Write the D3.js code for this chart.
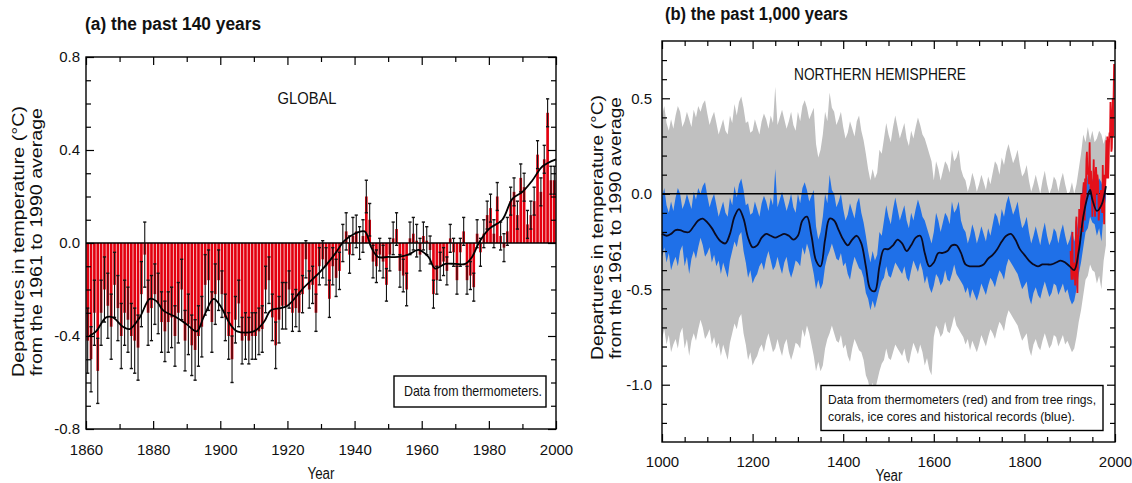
<!DOCTYPE html>
<html><head><meta charset="utf-8">
<script src="https://cdn.jsdelivr.net/npm/d3@7"></script>
<style>body{margin:0;background:#fff} svg{display:block}</style>
</head><body>
<svg id="c" width="1132" height="483"></svg>
<script>
// ---------- DATA: panel (a) global, 1861-2000 ----------
const globalStart = 1861;
const globalAnom = [
 -0.42,-0.50,-0.30,-0.55,-0.30,-0.20,-0.27,-0.36,-0.18,-0.28,
 -0.40,-0.30,-0.33,-0.40,-0.42,-0.45,-0.22,-0.05,-0.30,-0.28,
 -0.22,-0.26,-0.34,-0.38,-0.34,-0.32,-0.40,-0.30,-0.20,-0.42,
 -0.35,-0.44,-0.46,-0.40,-0.36,-0.18,-0.16,-0.34,-0.22,-0.16,
 -0.22,-0.32,-0.40,-0.50,-0.33,-0.26,-0.42,-0.40,-0.42,-0.40,
 -0.40,-0.38,-0.37,-0.20,-0.16,-0.32,-0.44,-0.33,-0.27,-0.27,
 -0.20,-0.30,-0.28,-0.30,-0.22,-0.07,-0.20,-0.18,-0.30,-0.10,
 -0.07,-0.10,-0.24,-0.10,-0.15,-0.12, 0.00, 0.05,-0.05, 0.03,
  0.05, 0.00, 0.03, 0.20, 0.10,-0.08,-0.10,-0.05,-0.08,-0.18,
 -0.05, 0.02, 0.06,-0.12,-0.14,-0.20, 0.02, 0.04, 0.01,-0.05,
  0.03, 0.01,-0.03,-0.22,-0.16,-0.10,-0.08,-0.12, 0.02,-0.04,
 -0.16,-0.04, 0.05,-0.16,-0.14,-0.19, 0.04,-0.04, 0.04, 0.12,
  0.15, 0.04, 0.20, 0.03,-0.02, 0.05, 0.18, 0.22, 0.12, 0.28,
  0.24, 0.08, 0.12, 0.18, 0.38, 0.22, 0.36, 0.56, 0.27, 0.27
];
// error-bar half widths by period [from, to, halfWidth]
const globalErr = [[1861,1880,0.14],[1881,1900,0.13],[1901,1920,0.10],[1921,1940,0.08],[1941,1960,0.07],[1961,2000,0.06]];
const globalSmoothYears = [1861,1863,1866,1868,1871,1873,1876,1879,1881,1883,1887,1890,1893,1895,1898,1900,1903,1905,1910,1913,1915,1918,1920,1925,1930,1934,1937,1940,1943,1945,1947,1950,1953,1956,1959,1962,1964,1967,1970,1973,1975,1977,1980,1984,1987,1990,1993,1996,2000];
const globalSmooth = [-0.40,-0.38,-0.32,-0.32,-0.36,-0.37,-0.32,-0.24,-0.25,-0.29,-0.32,-0.35,-0.38,-0.32,-0.24,-0.27,-0.35,-0.38,-0.38,-0.34,-0.29,-0.28,-0.27,-0.19,-0.12,-0.05,0.01,0.04,0.05,-0.02,-0.06,-0.06,-0.06,-0.05,-0.03,-0.06,-0.11,-0.09,-0.09,-0.09,-0.06,0.00,0.06,0.10,0.19,0.22,0.27,0.33,0.36];
const globalXTicks = [1860,1880,1900,1920,1940,1960,1980,2000];
const globalXMinor = [1870,1890,1910,1930,1950,1970,1990];
const globalYTicks = [-0.8,-0.4,0.0,0.4,0.8];
const globalYMinor = [-0.7,-0.6,-0.5,-0.3,-0.2,-0.1,0.1,0.2,0.3,0.5,0.6,0.7];

// ---------- DATA: panel (b) northern hemisphere, 1000-1980 every 5 years ----------
const nhStart = 1000, nhStep = 5;
// upper / lower envelope of the annual proxy reconstruction (blue)
const nhHi = [
 -0.02, 0.03,-0.06,-0.10,-0.04,-0.09,-0.02, 0.03, 0.00,-0.08,
 -0.05, 0.00,-0.04,-0.08, 0.01,-0.03, 0.03, 0.00, 0.04, 0.06,
 -0.01,-0.07,-0.03, 0.00,-0.06,-0.12,-0.08,-0.04,-0.10,-0.12,
 -0.02,-0.06, 0.04,-0.02, 0.05, 0.08, 0.02,-0.06,-0.05,-0.11,
 -0.10,-0.04,-0.08,-0.12,-0.05,-0.01,-0.04,-0.09,-0.02,-0.06,
  0.13,-0.07,-0.03, 0.01,-0.04,-0.09,-0.05, 0.00,-0.07,-0.10,
  0.00,-0.05, 0.03, 0.06, 0.02,-0.04,-0.01, 0.02,-0.17,-0.24,
 -0.20,-0.12, 0.00,-0.05, 0.10, 0.02, 0.00,-0.07,-0.04, 0.00,
 -0.08,-0.14,-0.11,-0.05,-0.09,-0.13,-0.05,-0.02,-0.10,-0.15,
 -0.22,-0.30,-0.36,-0.30,-0.35,-0.32,-0.20,-0.22,-0.14,-0.06,
 -0.12,-0.16,-0.08,-0.02,-0.08,-0.14,-0.10,-0.06,-0.14,-0.18,
 -0.10,-0.14,-0.08,-0.03,-0.07,-0.12,-0.14,-0.18,-0.22,-0.26,
 -0.20,-0.10,-0.14,-0.20,-0.15,-0.10,-0.12,-0.16,-0.04,-0.10,
 -0.08,-0.04,-0.14,-0.18,-0.20,-0.26,-0.22,-0.16,-0.20,-0.26,
 -0.22,-0.17,-0.21,-0.25,-0.18,-0.22,-0.16,-0.10,-0.12,-0.17,
 -0.08,-0.12,-0.05,-0.01,-0.06,-0.11,-0.08,-0.04,-0.12,-0.18,
 -0.16,-0.12,-0.20,-0.26,-0.22,-0.17,-0.22,-0.27,-0.20,-0.15,
 -0.22,-0.27,-0.24,-0.18,-0.20,-0.26,-0.20,-0.16,-0.22,-0.27,
 -0.24,-0.19,-0.25,-0.20,-0.12,-0.04, 0.06, 0.02, 0.10, 0.03,
  0.08, 0.02, 0.04, 0.08, 0.06, 0.01, 0.06];
const nhLo = [
 -0.33,-0.28,-0.36,-0.31,-0.40,-0.36,-0.33,-0.38,-0.30,-0.27,
 -0.38,-0.33,-0.42,-0.34,-0.30,-0.34,-0.28,-0.23,-0.27,-0.33,
 -0.31,-0.28,-0.36,-0.32,-0.38,-0.35,-0.42,-0.36,-0.40,-0.44,
 -0.35,-0.30,-0.25,-0.28,-0.22,-0.20,-0.30,-0.36,-0.44,-0.40,
 -0.47,-0.44,-0.42,-0.38,-0.36,-0.40,-0.34,-0.30,-0.35,-0.40,
 -0.38,-0.33,-0.38,-0.42,-0.36,-0.33,-0.40,-0.44,-0.40,-0.35,
 -0.36,-0.38,-0.28,-0.32,-0.26,-0.30,-0.36,-0.42,-0.50,-0.45,
 -0.50,-0.47,-0.38,-0.33,-0.30,-0.26,-0.30,-0.34,-0.35,-0.31,
 -0.38,-0.36,-0.42,-0.45,-0.38,-0.33,-0.36,-0.39,-0.40,-0.44,
 -0.52,-0.55,-0.61,-0.56,-0.60,-0.55,-0.50,-0.46,-0.44,-0.38,
 -0.43,-0.44,-0.40,-0.36,-0.38,-0.40,-0.42,-0.38,-0.44,-0.46,
 -0.40,-0.35,-0.38,-0.41,-0.36,-0.40,-0.47,-0.43,-0.49,-0.52,
 -0.48,-0.42,-0.44,-0.48,-0.46,-0.40,-0.45,-0.46,-0.42,-0.37,
 -0.42,-0.44,-0.46,-0.48,-0.52,-0.49,-0.55,-0.50,-0.53,-0.56,
 -0.52,-0.47,-0.50,-0.53,-0.48,-0.44,-0.46,-0.49,-0.44,-0.40,
 -0.42,-0.45,-0.38,-0.34,-0.36,-0.38,-0.40,-0.42,-0.46,-0.50,
 -0.48,-0.46,-0.54,-0.58,-0.52,-0.49,-0.53,-0.55,-0.50,-0.46,
 -0.50,-0.54,-0.52,-0.47,-0.48,-0.53,-0.50,-0.47,-0.52,-0.50,
 -0.55,-0.58,-0.56,-0.50,-0.42,-0.36,-0.28,-0.20,-0.18,-0.12,
 -0.15,-0.16,-0.22,-0.18,-0.25,-0.10,-0.02];
// two-sigma uncertainty added outside the blue envelope (grey) [from, to, width]
const nhUnc = [[1000,1599,0.43],[1600,1899,0.27],[1900,1980,0.25]];
const nhSmoothYears = [1000,1010,1020,1030,1040,1050,1060,1070,1080,1090,1100,1110,1120,1130,1140,1150,1160,1170,1180,1190,1200,1210,1220,1230,1240,1250,1260,1270,1280,1290,1300,1310,1320,1330,1340,1350,1360,1370,1380,1390,1400,1410,1420,1430,1440,1450,1460,1470,1480,1490,1500,1510,1520,1530,1540,1550,1560,1570,1580,1590,1600,1610,1620,1630,1640,1650,1660,1670,1680,1690,1700,1710,1720,1730,1740,1750,1760,1770,1780,1790,1800,1810,1820,1830,1840,1850,1860,1870,1880,1890,1900,1910,1920,1930,1940,1945,1950,1960,1970,1980];
const nhSmooth = [
 -0.21,-0.22,-0.21,-0.19,-0.19,-0.20,-0.20,-0.17,-0.14,-0.13,
 -0.15,-0.18,-0.22,-0.25,-0.26,-0.21,-0.12,-0.08,-0.13,-0.23,
 -0.28,-0.27,-0.23,-0.21,-0.22,-0.23,-0.22,-0.21,-0.22,-0.24,
 -0.22,-0.14,-0.12,-0.22,-0.35,-0.38,-0.24,-0.13,-0.14,-0.19,
 -0.24,-0.27,-0.24,-0.22,-0.26,-0.38,-0.50,-0.51,-0.38,-0.29,
 -0.29,-0.27,-0.24,-0.26,-0.30,-0.27,-0.23,-0.22,-0.31,-0.38,
 -0.36,-0.31,-0.31,-0.30,-0.27,-0.27,-0.31,-0.37,-0.38,-0.38,
 -0.38,-0.37,-0.34,-0.32,-0.29,-0.25,-0.22,-0.21,-0.24,-0.29,
 -0.32,-0.35,-0.37,-0.38,-0.37,-0.37,-0.37,-0.36,-0.35,-0.36,
 -0.38,-0.40,-0.30,-0.12,-0.01, 0.02,-0.03,-0.09,-0.06, 0.04];
// instrumental NH annual (red), 1902-1998
const instrStart = 1902;
const instrNH = [
 -0.30,-0.38,-0.45,-0.30,-0.20,-0.45,-0.40,-0.42,-0.36,
 -0.38,-0.48,-0.36,-0.15,-0.12,-0.36,-0.52,-0.34,-0.22,-0.22,
 -0.08,-0.18,-0.12,-0.18,-0.04, 0.00,-0.05,-0.02,-0.20, 0.02,
  0.06, 0.02,-0.14, 0.08,-0.02, 0.06, 0.18, 0.22, 0.12, 0.10,
  0.12, 0.05, 0.15, 0.27, 0.10, 0.02, 0.12, 0.04, 0.00,-0.12,
  0.02, 0.08, 0.18, 0.00,-0.06,-0.12, 0.10, 0.14, 0.10, 0.00,
  0.10, 0.08, 0.06,-0.14,-0.10,-0.02, 0.00,-0.08, 0.02, 0.00,
 -0.08,-0.10, 0.15,-0.06,-0.02,-0.16, 0.10, 0.02, 0.08, 0.16,
  0.28, 0.08, 0.30, 0.12, 0.08, 0.18, 0.28, 0.32, 0.30, 0.48,
  0.40, 0.22, 0.24, 0.36, 0.50, 0.30, 0.52, 0.68];
const nhXTicks = [1000,1200,1400,1600,1800,2000];
const nhXMinor = [1050,1100,1150,1250,1300,1350,1450,1500,1550,1650,1700,1750,1850,1900,1950];
const nhYTicks = [-1.0,-0.5,0.0,0.5];
const nhYMinor = [-1.2,-1.1,-0.9,-0.8,-0.7,-0.6,-0.4,-0.3,-0.2,-0.1,0.1,0.2,0.3,0.4,0.6,0.7];

// ---------- DRAWING ----------
const FONT = '"Liberation Sans Narrow","Arial Narrow","Liberation Sans",Arial,sans-serif';
const svg = d3.select('#c');
const fmt1 = v => v.toFixed(1);

function addText(g, x, y, str, opt) {
  const t = g.append('text').attr('x', x).attr('y', y).text(str)
    .attr('font-family', FONT).attr('font-size', opt.size || 15)
    .attr('fill', '#111');
  if (opt.bold) t.attr('font-weight', 'bold');
  if (opt.anchor) t.attr('text-anchor', opt.anchor);
  if (opt.transform) t.attr('transform', opt.transform);
  if (opt.fit) {
    // shrink the font so the natural width does not exceed the target width
    const nat = t.node().getComputedTextLength();
    if (nat > opt.len) t.attr('font-size', (opt.size || 15) * opt.len / nat);
  }
  if (opt.len) t.attr('textLength', opt.len).attr('lengthAdjust', 'spacingAndGlyphs');
  return t;
}

function axes(g, x, y, o) {
  const [x0, x1] = x.range(), [y0, y1] = y.range();
  const style = sel => {
    sel.select('.domain').remove();
    sel.selectAll('line').attr('stroke', '#000').attr('stroke-width', 1.2);
    sel.selectAll('text').attr('font-family', FONT).attr('font-size', 15).attr('fill', '#111');
  };
  g.append('g').attr('transform', `translate(0,${y0})`)
    .call(d3.axisBottom(x).tickValues(o.xMajor).tickSize(-8).tickPadding(o.xPad).tickFormat(d3.format('d'))).call(style);
  g.append('g').attr('transform', `translate(0,${y0})`)
    .call(d3.axisBottom(x).tickValues(o.xMinor).tickSize(-5).tickFormat('')).call(style);
  g.append('g').attr('transform', `translate(0,${y1})`)
    .call(d3.axisTop(x).tickValues(o.xMajor).tickSize(-8).tickFormat('')).call(style);
  g.append('g').attr('transform', `translate(0,${y1})`)
    .call(d3.axisTop(x).tickValues(o.xMinor).tickSize(-5).tickFormat('')).call(style);
  g.append('g').attr('transform', `translate(${x0},0)`)
    .call(d3.axisLeft(y).tickValues(o.yMajor).tickSize(-8).tickPadding(o.yPad).tickFormat(fmt1)).call(style);
  g.append('g').attr('transform', `translate(${x0},0)`)
    .call(d3.axisLeft(y).tickValues(o.yMinor).tickSize(-5).tickFormat('')).call(style);
  g.append('g').attr('transform', `translate(${x1},0)`)
    .call(d3.axisRight(y).tickValues(o.yMajor).tickSize(-8).tickFormat('')).call(style);
  g.append('g').attr('transform', `translate(${x1},0)`)
    .call(d3.axisRight(y).tickValues(o.yMinor).tickSize(-5).tickFormat('')).call(style);
  g.append('rect').attr('x', x0).attr('y', y1).attr('width', x1 - x0).attr('height', y0 - y1)
    .attr('fill', 'none').attr('stroke', '#000').attr('stroke-width', 1.4);
}

// ===== Panel (a) =====
{
  const g = svg.append('g');
  const x = d3.scaleLinear().domain([1860, 2000]).range([86, 556]);
  const y = d3.scaleLinear().domain([-0.8, 0.8]).range([429, 57]);
  const data = globalAnom.map((v, i) => ({ year: globalStart + i, v }));
  const errOf = yr => globalErr.find(s => yr >= s[0] && yr <= s[1])[2];

  g.append('g').selectAll('rect').data(data).join('rect')
    .attr('x', d => x(d.year - 1) + 0.35)
    .attr('width', d => x(d.year) - x(d.year - 1) - 0.7)
    .attr('y', d => y(Math.max(d.v, 0)))
    .attr('height', d => Math.abs(y(d.v) - y(0)))
    .attr('fill', '#e3000f');

  g.append('line').attr('x1', x(1860)).attr('x2', x(2000)).attr('y1', y(0)).attr('y2', y(0))
    .attr('stroke', '#000').attr('stroke-width', 1.3);

  const eb = g.append('g').attr('stroke', '#111').attr('stroke-width', 1.1);
  data.forEach(d => {
    const cx = x(d.year - 0.5), e = errOf(d.year);
    eb.append('line').attr('x1', cx).attr('x2', cx).attr('y1', y(d.v - e)).attr('y2', y(d.v + e));
    [d.v - e, d.v + e].forEach(w => eb.append('line').attr('x1', cx - 1.6).attr('x2', cx + 1.6).attr('y1', y(w)).attr('y2', y(w)).attr('stroke-width', 1.4));
  });

  g.append('path').datum(globalSmoothYears.map((yr, i) => [yr, globalSmooth[i]]))
    .attr('d', d3.line().x(d => x(d[0])).y(d => y(d[1])).curve(d3.curveCatmullRom))
    .attr('fill', 'none').attr('stroke', '#000').attr('stroke-width', 1.8);

  axes(g, x, y, { xMajor: globalXTicks, xMinor: globalXMinor, yMajor: globalYTicks, yMinor: globalYMinor, xPad: 15, yPad: 6 });

  addText(g, 85, 30, '(a) the past 140 years', { size: 18, bold: true, len: 176 });
  addText(g, 307, 104, 'GLOBAL', { size: 17, anchor: 'middle', len: 59 });
  addText(g, 321, 479, 'Year', { size: 16, anchor: 'middle', len: 27 });
  addText(g, -135, 0, 'Departures in temperature (\u00B0C)', { size: 16, len: 271, transform: 'translate(18.5,242) rotate(-90)' }).attr('dy', '0.35em');
  addText(g, -134, 0, 'from the 1961 to 1990 average', { size: 16, len: 268, transform: 'translate(36,242) rotate(-90)' }).attr('dy', '0.35em');

  g.append('rect').attr('x', 394).attr('y', 376).attr('width', 152).attr('height', 31)
    .attr('fill', '#fff').attr('stroke', '#000').attr('stroke-width', 1.4);
  addText(g, 404, 396, 'Data from thermometers.', { size: 15, len: 138 });
}

// ===== Panel (b) =====
{
  const g = svg.append('g');
  const x = d3.scaleLinear().domain([1000, 2000]).range([662, 1115]);
  const y = d3.scaleLinear().domain([-1.3, 0.8]).range([442, 41]);
  const uncOf = yr => nhUnc.find(s => yr >= s[0] && yr <= s[1])[2];
  const pts = nhHi.map((hi, i) => {
    const yr = nhStart + i * nhStep;
    return { yr, hi, lo: nhLo[i], u: uncOf(yr) };
  });

  g.append('path').datum(pts)
    .attr('d', d3.area().x(d => x(d.yr)).y0(d => y(d.lo - d.u)).y1(d => y(d.hi + d.u)))
    .attr('fill', '#c0c0c0');

  g.append('path').datum(pts)
    .attr('d', d3.area().x(d => x(d.yr)).y0(d => y(d.lo)).y1(d => y(d.hi)))
    .attr('fill', '#1f70e8');

  g.append('line').attr('x1', x(1000)).attr('x2', x(2000)).attr('y1', y(0)).attr('y2', y(0))
    .attr('stroke', '#000').attr('stroke-width', 1.3);

  g.append('path').datum(instrNH.map((v, i) => [instrStart + i, v]))
    .attr('d', d3.line().x(d => x(d[0])).y(d => y(d[1])))
    .attr('fill', 'none').attr('stroke', '#e3101a').attr('stroke-width', 1.8);

  g.append('path').datum(nhSmoothYears.map((yr, i) => [yr, nhSmooth[i]]))
    .attr('d', d3.line().x(d => x(d[0])).y(d => y(d[1])).curve(d3.curveCatmullRom))
    .attr('fill', 'none').attr('stroke', '#0a0a20').attr('stroke-width', 1.8);

  axes(g, x, y, { xMajor: nhXTicks, xMinor: nhXMinor, yMajor: nhYTicks, yMinor: nhYMinor, xPad: 14, yPad: 10 });

  addText(g, 665, 20, '(b) the past 1,000 years', { size: 18, bold: true, len: 183 });
  addText(g, 880, 80, 'NORTHERN HEMISPHERE', { size: 17, anchor: 'middle', len: 172 });
  addText(g, 889, 483, 'Year', { size: 16, anchor: 'middle', len: 27 }).attr('dy', '-0.1em');
  addText(g, -132, 0, 'Departures in temperature (\u00B0C)', { size: 16, len: 265, transform: 'translate(597.5,228) rotate(-90)' }).attr('dy', '0.35em');
  addText(g, -131, 0, 'from the 1961 to 1990 average', { size: 16, len: 262, transform: 'translate(615.5,228) rotate(-90)' }).attr('dy', '0.35em');

  g.append('rect').attr('x', 821).attr('y', 385.5).attr('width', 282).attr('height', 45)
    .attr('fill', '#fff').attr('stroke', '#000').attr('stroke-width', 1.4);
  addText(g, 828, 404, 'Data from thermometers (red) and from tree rings,', { size: 14, len: 268, fit: true });
  addText(g, 828, 421, 'corals, ice cores and historical records (blue).', { size: 14, len: 247, fit: true });
}
</script>
</body></html>
